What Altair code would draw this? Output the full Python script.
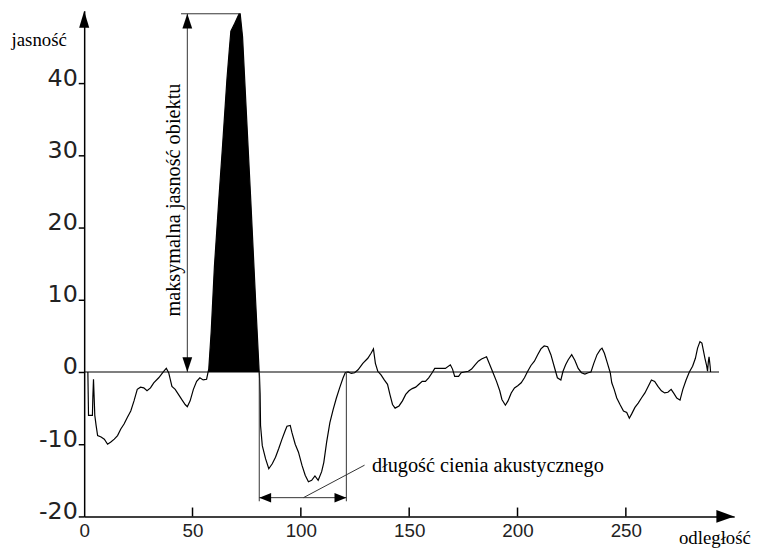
import altair as alt
import pandas as pd

# ---- data ----
dist = [1.7, 2.0, 3.8, 4.0, 4.3, 4.6, 4.9, 5.5, 6.2, 7.8, 9.3, 10.8, 12.3, 13.9, 15.4, 16.9, 18.4, 19.9,
        21.5, 23.0, 24.5, 26.0, 27.5, 29.0, 30.6, 32.1, 34.4, 36.7, 37.9, 39.0, 40.5, 42.0, 43.5, 45.0,
        46.6, 47.6, 48.9, 50.4, 51.9, 53.4, 54.9, 56.5, 57.2,
        57.5, 58.6, 60.1, 62.1, 63.9, 65.9, 67.0, 67.7, 69.5, 71.5, 72.0, 73.1, 74.6, 76.9, 79.1, 80.7,
        80.9, 81.2, 81.4, 82.2, 83.7, 85.2, 86.8, 88.3, 89.8, 91.3, 92.8, 93.6, 95.1, 95.9, 97.4, 98.9,
        100.5, 102.0, 103.5, 105.0, 106.5, 108.0, 109.6, 110.6, 111.9, 113.4, 114.9, 116.4, 117.9, 119.5,
        120.5, 121.8, 123.3, 124.8, 126.4, 128.6, 130.9, 132.4, 133.5, 134.4, 135.5, 137.0, 138.5, 140.0,
        141.1, 142.3, 143.5, 145.3, 146.9, 148.4, 149.9, 151.4, 153.0, 154.5, 156.0, 157.5, 159.0, 160.6,
        161.8, 164.4, 166.7, 169.0, 170.0, 171.0, 172.8, 174.0, 175.5, 177.3, 178.8, 180.4, 181.9, 183.4,
        185.7, 187.2, 188.7, 190.3, 191.8, 192.8, 194.4, 195.6, 197.1, 198.6, 200.1, 201.7, 203.2, 204.7,
        206.2, 207.8, 209.3, 210.8, 212.3, 213.9, 215.4, 216.9, 218.4, 220.0, 221.0, 222.2, 223.4, 225.0,
        226.5, 228.0, 229.5, 231.1, 232.6, 233.9, 235.2, 236.7, 238.2, 239.0, 240.1, 241.2, 242.8, 243.5,
        244.6, 245.8, 247.3, 248.9, 250.4, 251.6, 252.7, 254.2, 255.7, 257.2, 258.8, 260.3, 261.8, 263.3,
        264.8, 266.4, 267.9, 269.4, 270.9, 272.0, 273.5, 275.0, 276.3, 277.8, 279.3, 280.8, 282.1, 283.1,
        284.2, 285.1, 285.7, 286.5, 287.2, 287.7, 288.1, 288.4, 288.9, 289.1]
bright = [0.0, -6.0, -6.0, -3.5, -1.0, -3.5, -6.0, -7.4, -8.8, -9.0, -9.3, -10.0, -9.7, -9.3, -8.8, -7.9, -7.2, -6.3,
          -5.4, -4.0, -2.4, -2.1, -2.2, -2.6, -2.2, -1.5, -0.8, 0.1, 0.5, -0.1, -2.0, -2.4, -3.1, -3.8,
          -4.5, -4.8, -4.0, -2.4, -1.3, -0.8, -1.1, -1.0, 0.0,
          0.4, 5.5, 14.6, 23.7, 31.5, 40.6, 44.7, 47.2, 48.3, 49.6, 49.6, 46.4, 37.4, 23.7, 10.0, 0.4,
          -0.5, -3.0, -7.4, -10.2, -12.0, -13.4, -12.7, -11.8, -10.6, -9.3, -8.1, -7.5, -7.4, -8.4, -10.0, -11.1,
          -12.9, -14.3, -15.2, -15.0, -14.4, -15.0, -13.8, -12.5, -9.7, -7.0, -5.2, -3.6, -2.2, -0.8,
          -0.1, 0.0, -0.2, -0.1, 0.3, 1.2, 1.9, 2.6, 3.2, 1.2, 0.1, -0.4, -1.1, -1.7,
          -3.1, -4.5, -5.0, -4.7, -4.0, -3.1, -2.6, -2.3, -2.1, -1.7, -1.3, -1.3, -0.8, -0.1,
          0.5, 0.5, 0.5, 1.0, 0.4, -0.6, -0.6, -0.1, 0.0, 0.1, 0.4, 1.0, 1.5, 1.8,
          2.1, 1.0, -0.1, -1.3, -2.6, -3.8, -4.6, -4.0, -2.9, -2.2, -1.9, -1.5, -0.8, 0.1,
          0.9, 1.5, 2.4, 3.2, 3.6, 3.5, 2.4, 0.8, -0.8, -1.1, 0.1, 1.0, 1.7, 2.4,
          1.6, 0.5, -0.1, -0.3, -0.1, 0.0, 1.2, 2.4, 3.1, 3.3, 2.6, 1.5, -0.1, -1.5,
          -2.4, -3.6, -4.5, -5.4, -5.6, -6.4, -5.8, -4.9, -4.3, -3.6, -2.9, -2.0, -1.1, -1.3,
          -2.0, -2.6, -2.9, -2.8, -2.4, -2.9, -3.6, -3.9, -2.4, -1.1, 0.0, 0.8, 1.9, 3.3,
          4.2, 4.0, 3.1, 1.9, 1.0, 0.1, 1.5, 2.1, 0.8, 0.0]

peak_start, peak_end = 57.2, 80.7          # object (black) region
x_ticks = [0, 50, 100, 150, 200, 250]
y_ticks = [-20, -10, 0, 10, 20, 30, 40]
x_max, y_min, y_max = 300, -20, 50

max_level = 49.6                           # maximal object brightness
max_arrow_x = 47.6
shadow_x = [80.8, 121.0]                   # acoustic shadow limits
shadow_arrow_y = -17.4
shadow_line_bottom = -17.9
leader = [(101.2, -17.4), (129.4, -12.9)]

df = pd.DataFrame({"x": dist, "y": bright, "i": range(len(dist))})
peak = df[(df.x >= peak_start) & (df.x <= peak_end)].copy().reset_index(drop=True)
peak["z"] = 0.0

W, H = 657, 511
tick_len = 9 / (H / (y_max - y_min))
xs = alt.Scale(domain=[0, x_max], nice=False, zero=False)
ys = alt.Scale(domain=[y_min, y_max], nice=False, zero=False)

SERIF = "Liberation Serif"

XAX = alt.Axis(
    values=x_ticks, ticks=False, grid=False, domain=True, domainColor="black", domainWidth=1.5,
    labelFont="Liberation Sans", labelFontSize=19, labelColor="#222", labelPadding=5,
    labelFlush=False, labelOverlap=False, labelExpr="'' + datum.value",
    title="odległość", titleAngle=0, titleX=637, titleY=27, titleAlign="center",
    titleBaseline="alphabetic", titleFont=SERIF, titleFontSize=19, titleFontWeight="normal",
    titleColor="black")
YAX = alt.Axis(
    values=y_ticks, grid=False, domain=True, domainColor="black", domainWidth=1.5,
    ticks=True, tickSize=6, tickColor="black", tickWidth=1.5,
    labelFont="DejaVu Sans", labelFontSize=24, labelColor="#222", labelPadding=1,
    labelBaseline="alphabetic", labelOffset=2, labelFlush=False, labelOverlap=False,
    labelExpr="'' + datum.value",
    title="jasność", titleAngle=0, titleX=-46, titleY=35, titleAlign="center",
    titleBaseline="alphabetic", titleFont=SERIF, titleFontSize=19, titleFontWeight="normal",
    titleColor="black")


def X(f):
    return alt.X(f, scale=xs, axis=XAX)


def Y(f):
    return alt.Y(f, scale=ys, axis=YAX)


area = alt.Chart(peak).mark_area(color="black", fill="black", opacity=1, fillOpacity=1).encode(
    x=X("x:Q"), y=Y("y:Q"), y2="z:Q")

line = alt.Chart(df).mark_line(color="black", strokeWidth=1.2).encode(
    x=X("x:Q"), y=Y("y:Q"), order="i:Q")

zero_line = alt.Chart(pd.DataFrame({"x": [0], "b": [293], "y": [0]})).mark_rule(
    color="black", strokeWidth=1.2).encode(x=X("x:Q"), x2="b:Q", y=Y("y:Q"))

inner_ticks = alt.Chart(pd.DataFrame({
    "x": x_ticks[1:], "y": [y_min] * 5, "y2": [y_min + tick_len] * 5})).mark_rule(
    color="black", strokeWidth=1.5).encode(x=X("x:Q"), y=Y("y:Q"), y2="y2:Q")

segs = pd.DataFrame({
    "x": [max_arrow_x, 44.7, shadow_x[0], shadow_x[1], shadow_x[0], leader[0][0]],
    "x2": [max_arrow_x, 71.7, shadow_x[0], shadow_x[1], shadow_x[1], leader[1][0]],
    "y": [0, max_level, 0, 0, shadow_arrow_y, leader[0][1]],
    "y2": [max_level, max_level, shadow_line_bottom, shadow_line_bottom, shadow_arrow_y, leader[1][1]],
})
seg_layer = alt.Chart(segs).mark_rule(color="#333", strokeWidth=1).encode(
    x=X("x:Q"), x2="x2:Q", y=Y("y:Q"), y2="y2:Q")

UP = "M0,0L0.33,1L-0.33,1Z"
DOWN = "M0,0L0.33,-1L-0.33,-1Z"
LEFT = "M0,0L1,0.4L1,-0.4Z"
RIGHT = "M0,0L-1,0.4L-1,-0.4Z"
AX_UP = "M0,0L0.3,1L-0.3,1Z"
AX_RIGHT = "M0,0L-1,0.36L-1,-0.36Z"
heads = pd.DataFrame({
    "x": [max_arrow_x, max_arrow_x, shadow_x[0], shadow_x[1], 0, x_max],
    "y": [max_level, 0, shadow_arrow_y, shadow_arrow_y, y_max, y_min],
    "shape": [UP, DOWN, LEFT, RIGHT, AX_UP, AX_RIGHT],
    "size": [900, 900, 576, 576, 1156, 1296],
})
head_layer = alt.Chart(heads).mark_point(filled=True, color="black", opacity=1, strokeWidth=0).encode(
    x=X("x:Q"), y=Y("y:Q"),
    shape=alt.Shape("shape:N", scale=None), size=alt.Size("size:Q", scale=None))

labels = pd.DataFrame({"x": [41.6], "y": [23.8], "t": ["maksymalna  jasność obiektu"]})
vlabel = alt.Chart(labels).mark_text(angle=270, font=SERIF, fontSize=20.5, color="black",
                                     align="center", baseline="middle").encode(
    x=X("x:Q"), y=Y("y:Q"), text="t:N")

labels2 = pd.DataFrame({"x": [132.8], "y": [-13.0], "t": ["długość cienia akustycznego"]})
hlabel = alt.Chart(labels2).mark_text(font=SERIF, fontSize=20.5, color="black",
                                      align="left", baseline="middle").encode(
    x=X("x:Q"), y=Y("y:Q"), text="t:N")

chart = alt.layer(line, area, zero_line, inner_ticks, seg_layer, head_layer, vlabel, hlabel).properties(
    width=W, height=H,
    autosize=alt.AutoSizeParams(type="none"),
    padding={"left": 77, "top": 0, "right": 18, "bottom": 30},
    background="white",
).configure_view(stroke=None)

chart.save("out.html", embed_options={"renderer": "svg", "actions": False})
